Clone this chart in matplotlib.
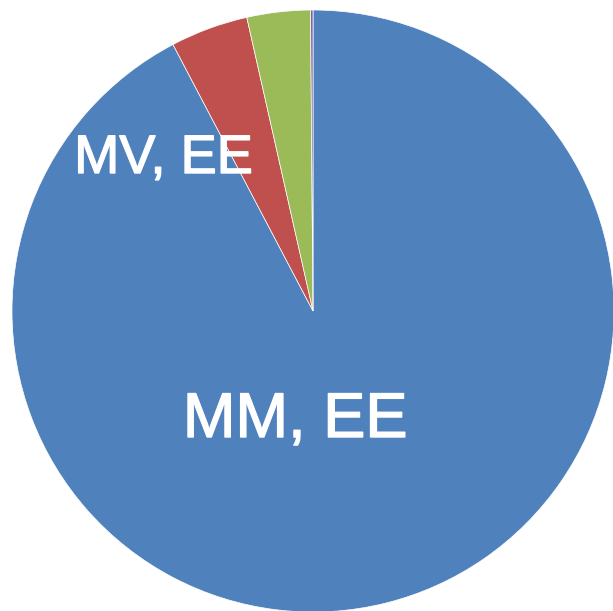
import matplotlib
matplotlib.use("Agg")
import matplotlib.pyplot as plt
import matplotlib.patheffects as pe

labels = ["MM, EE", "MV, EE", "Other A", "Other B"]
values = [92.3, 4.17, 3.4, 0.13]
colors = ["#4F81BD", "#C0504D", "#9BBB59", "#8064A2"]

fig = plt.figure(figsize=(6.13, 6.11), dpi=100)
ax = fig.add_axes([0, 0, 1, 1])
R = 301.0
cx, cy = 313.0, 311.0
ax.pie(values, colors=colors, startangle=90, counterclock=False, radius=1,
       wedgeprops=dict(edgecolor="white", linewidth=0.5))
ax.set_aspect("auto")
ax.set_xlim(-cx / R, (613 - cx) / R)
ax.set_ylim(-(611 - cy) / R, cy / R)
ax.axis("off")

stroke = [pe.withStroke(linewidth=1.0, foreground="white")]
ax.text((295.5 - cx) / R, (cy - 437) / R, labels[0], color="white", fontsize=45.5,
        family="Liberation Sans", ha="center", va="baseline", path_effects=stroke)
ax.text((163.5 - cx) / R, (cy - 173) / R, labels[1], color="white", fontsize=39,
        family="Liberation Sans", ha="center", va="baseline", path_effects=stroke)

fig.savefig("out.png", dpi=100)
